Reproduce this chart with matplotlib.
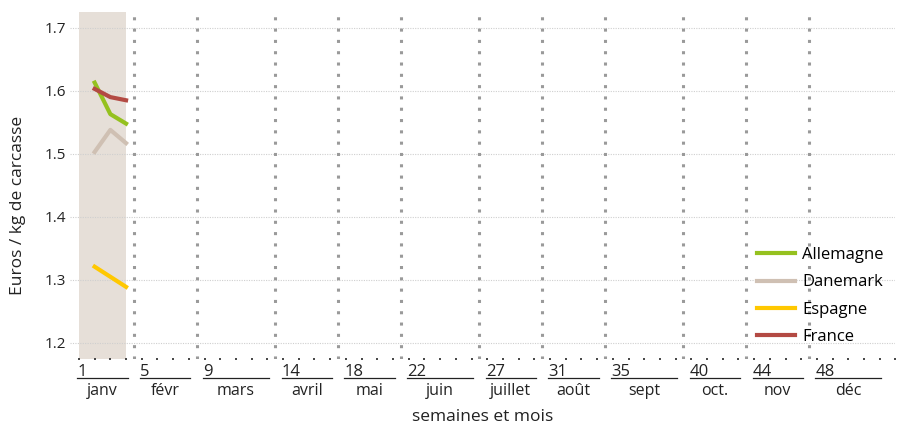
import matplotlib.pyplot as plt
from matplotlib.transforms import blended_transform_factory

plt.rcParams['font.family'] = ['Open Sans', 'DejaVu Sans']

weeks = [2, 3, 4]
allemagne = [1.613, 1.563, 1.548]
danemark = [1.503, 1.538, 1.517]
espagne = [1.321, 1.305, 1.289]
france = [1.603, 1.590, 1.585]

month_names = ['janv', 'févr', 'mars', 'avril', 'mai', 'juin', 'juillet',
               'août', 'sept', 'oct.', 'nov', 'déc']
month_start = [1, 5, 9, 14, 18, 22, 27, 31, 35, 40, 44, 48]
last_week = 52
highlight = (1, 4)
yticks = [1.2, 1.3, 1.4, 1.5, 1.6, 1.7]

fig = plt.figure(figsize=(9.04, 4.25), dpi=100)
ax = fig.add_axes([70 / 904, 66 / 425, 825 / 904, 347 / 425])
ax.set_xlim(0.43, 52.97)
ax.set_ylim(1.1746, 1.725)

ax.axvspan(highlight[0], highlight[1], color='#e6dfd8', lw=0, zorder=0)

for y in yticks:
    ax.axhline(y, color='#cfcfcf', lw=0.8, ls=(0, (1, 1.2)), zorder=1)

# month separators
for s in month_start[1:]:
    ax.axvline(s - 0.5, color='#9a9a9a', lw=2.2, ls=(0, (1, 2.7)), zorder=2)

# dotted baseline, one dot per week
ax.plot(range(1, 54), [ax.get_ylim()[0]] * 53, color='#4a4a4a', lw=0,
        marker='s', markersize=2.1, markeredgewidth=0, clip_on=False, zorder=3)

series = [('Allemagne', allemagne, '#95c11f'),
          ('Danemark', danemark, '#cfc0b3'),
          ('Espagne', espagne, '#ffc800'),
          ('France', france, '#b34a43')]
for name, vals, col in series:
    ax.plot(weeks, vals, color=col, lw=3, label=name, zorder=4,
            solid_joinstyle='round')

for s in ['top', 'right', 'left', 'bottom']:
    ax.spines[s].set_visible(False)
ax.set_xticks([])
ax.set_yticks(yticks)
ax.set_yticklabels([f'{v:.1f}' for v in yticks], fontsize=11, color='#222222')
ax.tick_params(axis='y', length=0, pad=3)

trans = blended_transform_factory(ax.transData, ax.transAxes)
ends = [s - 0.5 for s in month_start[1:]] + [last_week + 0.5]
for name, start, end in zip(month_names, month_start, ends):
    ax.text(start - 0.1, -0.049, str(start), transform=trans, fontsize=12,
            ha='left', va='baseline', color='#222222')
    ax.plot([start - 0.1, end - 0.4], [-0.056, -0.056], transform=trans,
            color='#222222', lw=0.9, clip_on=False)
    ax.text((start - 0.1 + end - 0.4) / 2, -0.104, name, transform=trans,
            fontsize=11.5, ha='center', va='baseline', color='#222222')

ax.text(0.5, -0.168, 'semaines et mois', transform=ax.transAxes, fontsize=12.5,
        ha='center', va='center', color='#222222')
fig.text(18 / 904, 1 - 205 / 425, 'Euros / kg de carcasse', rotation=90,
         fontsize=12.5, ha='center', va='center', color='#222222')

ax.legend(loc='upper left', bbox_to_anchor=(757 / 904, 1 - 247 / 425),
          bbox_transform=fig.transFigure, frameon=False, fontsize=12,
          handlelength=2.3, handletextpad=0.4, labelspacing=0.68,
          borderpad=0, borderaxespad=0)

fig.savefig('out.png', dpi=100)
